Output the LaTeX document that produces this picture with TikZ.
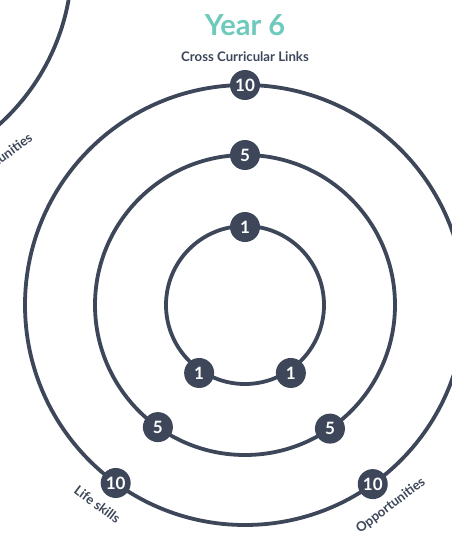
\documentclass[tikz,border=0pt]{standalone}
\usepackage{fontspec}
\setmainfont{Lato}
\definecolor{slate}{HTML}{3D4759}
\definecolor{teal6}{HTML}{6DCABD}
\begin{document}
\begin{tikzpicture}[x=1pt,y=1pt,
  ring/.style={draw=slate,line width=3.8pt},
  num/.style={circle,fill=slate,text=white,minimum size=30pt,inner sep=0pt,
              font=\fontsize{17}{17}\selectfont\bfseries},
  lbl/.style={text=slate,font=\fontsize{13.2}{13.2}\selectfont\bfseries,inner sep=0pt},
  title/.style={text=teal6,font=\fontsize{29}{29}\selectfont\bfseries,inner sep=0pt}]
\clip (0,0) rectangle (452,-535);
\fill[white] (0,0) rectangle (452,-535);

% neighbouring chart, only its outer ring and one label show
\begin{scope}[shift={(-148,39)}]
  \draw[ring] (0,0) circle (220);
  \node[lbl,rotate=36] (nopp) at (306:248) {Opportunities};
\end{scope}

% Year 6 chart
\node[title] (title) at (245,-25) {Year 6};
\node[lbl] (cross) at (245,-57) {Cross Curricular Links};
\begin{scope}[shift={(245,-305)}]
  \coordinate (c) at (0,0);
  \draw[ring] (c) circle (220);
  \draw[ring] (c) circle (150);
  \draw[ring] (c) circle (79);
  \node[num] (t10) at (90:220) {10};
  \node[num] (t5)  at (90:150) {5};
  \node[num] (t1)  at (90:78)  {1};
  \node[num] (l10) at (234:220) {10};
  \node[num] (l5)  at (234.5:150) {5};
  \node[num] (l1)  at (236:82)  {1};
  \node[num] (r10) at (305.5:220) {10};
  \node[num] (r5)  at (304.5:150) {5};
  \node[num] (r1)  at (304:82)  {1};
  \node[lbl,rotate=-37] (life) at (233.5:248) {Life skills};
  \node[lbl,rotate=37]  (opp)  at (306:248) {Opportunities};
\end{scope}
\end{tikzpicture}
\end{document}
